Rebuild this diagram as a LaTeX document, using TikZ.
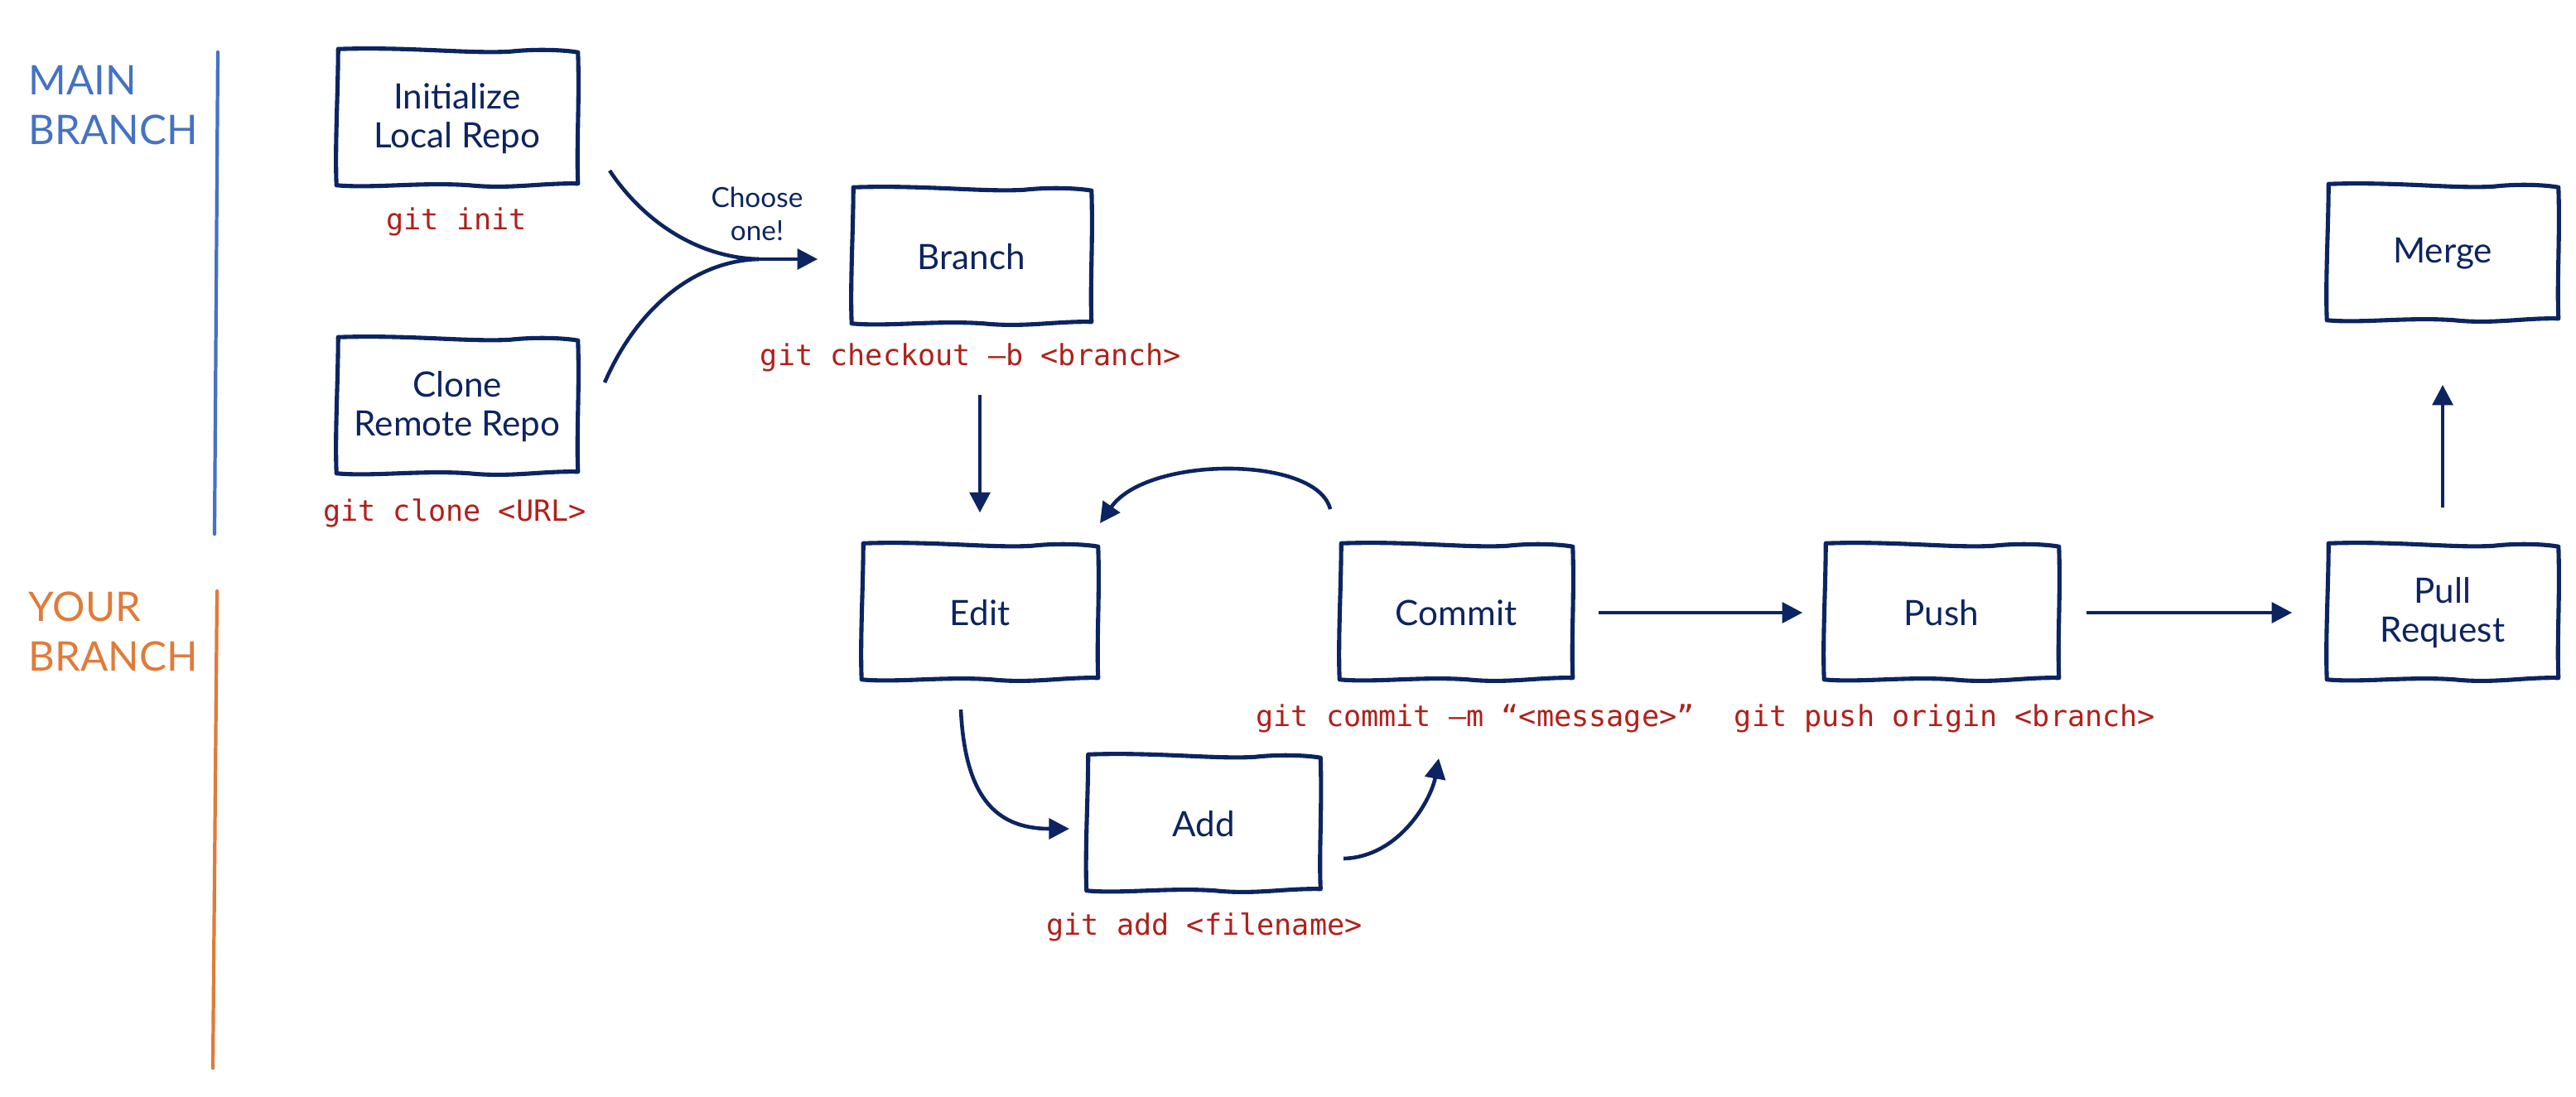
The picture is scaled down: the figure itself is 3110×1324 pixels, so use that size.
\documentclass[tikz,border=0pt]{standalone}
\usepackage{fontspec}
\setmainfont{Lato}
\newfontfamily\codefont{DejaVu Sans Mono}
\usetikzlibrary{arrows.meta,calc}
\definecolor{navy}{HTML}{0C2461}
\definecolor{codered}{HTML}{B0201A}
\definecolor{mainblue}{HTML}{4472C4}
\definecolor{yourorange}{HTML}{E07B39}
\begin{document}
\begin{tikzpicture}[x=0.01cm,y=-0.01cm,
  box/.style={minimum width=2.84cm, minimum height=1.62cm,
    inner sep=0pt, align=center, text=navy, font=\fontsize{12}{13.5}\selectfont},
  border/.style={draw=navy, line width=1.45pt, line join=round},
  code/.style={text=codered, font=\codefont\fontsize{10}{12}\selectfont, inner sep=0pt},
  arr/.style={draw=navy, line width=1.3pt, -{Triangle[length=7pt,width=7pt]}},
  curve/.style={draw=navy, line width=1.3pt},
  lanelabel/.style={font=\fontsize{14}{17}\selectfont, align=left, anchor=north west, inner sep=0pt},
  lanebar/.style={line width=1.2pt, line cap=round}]
\useasboundingbox (0,0) rectangle (3110,1324);

% lane labels and bars
\node[lanelabel, text=mainblue] (mainlbl) at (34,79) {MAIN\\BRANCH};
\node[lanelabel, text=yourorange] (yourlbl) at (34,714) {YOUR\\BRANCH};
\coordinate (mbtop) at (263,63);
\coordinate (mbbot) at (259,645);
\coordinate (ybtop) at (262,714);
\coordinate (ybbot) at (257,1290);
\draw[lanebar, mainblue] (mbtop) -- (mbbot);
\draw[lanebar, yourorange] (ybtop) -- (ybbot);

% boxes
\node[box, minimum width=2.9cm] (init) at (552,143) {Initialize\\Local Repo};
\node[box, minimum width=2.9cm] (clone) at (552,491) {Clone\\Remote Repo};
\node[box, minimum width=2.88cm] (branch) at (1173,310) {Branch};
\node[box, minimum width=2.78cm] (merge) at (2949,306) {Merge};
\node[box] (edit) at (1183,740) {Edit};
\node[box, minimum width=2.8cm] (commit) at (1758,740) {Commit};
\node[box, minimum width=2.82cm] (push) at (2344,740) {Push};
\node[box, minimum width=2.78cm] (pr) at (2949,740) {Pull\\Request};
\node[box, minimum width=2.81cm] (add) at (1453,995) {Add};

% hand-drawn borders
\foreach \n in {init,clone,branch,merge,edit,commit,push,pr,add}{
  \draw[border]
    ($(\n.north west)+(2,-2)$)
      .. controls ($(\n.north west)!0.3!(\n.north east)+(0,-5)$)
              and ($(\n.north west)!0.55!(\n.north east)+(0,4)$) ..
    ($(\n.north west)!0.72!(\n.north east)+(0,1)$)
      .. controls ($(\n.north west)!0.85!(\n.north east)+(0,-3)$)
              and ($(\n.north east)+(-10,0)$) ..
    ($(\n.north east)+(0,2)$)
      .. controls ($(\n.north east)!0.4!(\n.south east)+(2,0)$)
              and ($(\n.north east)!0.7!(\n.south east)+(-2,0)$) ..
    ($(\n.south east)+(0,-3)$)
      .. controls ($(\n.south west)!0.85!(\n.south east)+(0,-4)$)
              and ($(\n.south west)!0.72!(\n.south east)+(0,4)$) ..
    ($(\n.south west)!0.55!(\n.south east)+(0,-1)$)
      .. controls ($(\n.south west)!0.35!(\n.south east)+(0,-5)$)
              and ($(\n.south west)!0.15!(\n.south east)+(0,3)$) ..
    ($(\n.south west)+(0,-1)$)
      .. controls ($(\n.south west)!0.3!(\n.north west)+(-2,0)$)
              and ($(\n.south west)!0.7!(\n.north west)+(2,0)$) ..
    cycle;
}

% code labels
\node[code] (cinit) at (551,268) {git init};
\node[code] (cclone) at (549,620) {git clone <URL>};
\node[code] (cbranch) at (1172,432) {git checkout –b <branch>};
\node[code] (ccommit) at (1781,868) {git commit –m “<message>”};
\node[code] (cpush) at (2348,868) {git push origin <branch>};
\node[code] (cadd) at (1454,1120) {git add <filename>};

% choose one
\node[text=navy, font=\fontsize{9.5}{11.4}\selectfont, align=center, inner sep=0pt] (choose) at (914,258) {Choose\\one!};

% connectors
\coordinate (initout) at (736,206);
\coordinate (cloneout) at (730,462);
\coordinate (mp) at (916,313);
\draw[curve] (initout) .. controls (775,265) and (840,311) .. (mp);
\draw[curve] (cloneout) .. controls (770,370) and (840,315) .. (mp);
\draw[arr, shorten >=0.41cm] (mp) -- (branch.west |- mp);

\draw[arr, shorten <=0.85cm, shorten >=0.39cm] (edit.north |- branch.south) -- (edit.north);

\coordinate (commitout) at (1606,615);
\coordinate (editin) at (1328,632);
\draw[arr] (commitout) .. controls (1590,550) and (1385,550) .. (editin);

\coordinate (editout) at (1160,857);
\coordinate (addin) at (1291,1001);
\draw[arr] (editout) .. controls (1165,960) and (1200,1001) .. (addin);

\coordinate (addout) at (1622,1037);
\coordinate (commitin) at (1737,916);
\draw[arr] (addout) .. controls (1690,1035) and (1728,965) .. (commitin);

\draw[arr, shorten <=0.31cm, shorten >=0.26cm] (commit.east) -- (push.west);
\draw[arr, shorten <=0.33cm, shorten >=0.42cm] (push.east) -- (pr.west);
\draw[arr, shorten <=0.45cm, shorten >=0.77cm] (pr.north) -- (merge.south);
\end{tikzpicture}
\end{document}
